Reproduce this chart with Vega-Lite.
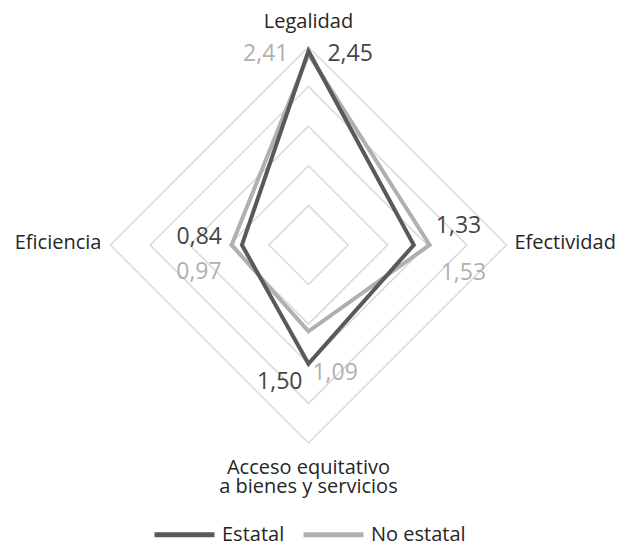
{
  "$schema": "https://vega.github.io/schema/vega-lite/v6.json",
  "width": 622,
  "height": 544,
  "padding": 0,
  "autosize": {"type": "none"},
  "config": {
    "view": {"stroke": null},
    "font": "Open Sans",
    "text": {"font": "Open Sans"}
  },
  "datasets": {
    "valores": [
      {"grupo": "No estatal", "eje": "Legalidad", "valor": 2.41},
      {"grupo": "No estatal", "eje": "Efectividad", "valor": 1.53},
      {"grupo": "No estatal", "eje": "Acceso equitativo\na bienes y servicios", "valor": 1.09},
      {"grupo": "No estatal", "eje": "Eficiencia", "valor": 0.97},
      {"grupo": "Estatal", "eje": "Legalidad", "valor": 2.45},
      {"grupo": "Estatal", "eje": "Efectividad", "valor": 1.33},
      {"grupo": "Estatal", "eje": "Acceso equitativo\na bienes y servicios", "valor": 1.5},
      {"grupo": "Estatal", "eje": "Eficiencia", "valor": 0.84}
    ],
    "malla": [
      {"nivel": 0.5, "eje": "Legalidad", "valor": 0.5},
      {"nivel": 0.5, "eje": "Efectividad", "valor": 0.5},
      {"nivel": 0.5, "eje": "Acceso equitativo\na bienes y servicios", "valor": 0.5},
      {"nivel": 0.5, "eje": "Eficiencia", "valor": 0.5},
      {"nivel": 1, "eje": "Legalidad", "valor": 1},
      {"nivel": 1, "eje": "Efectividad", "valor": 1},
      {"nivel": 1, "eje": "Acceso equitativo\na bienes y servicios", "valor": 1},
      {"nivel": 1, "eje": "Eficiencia", "valor": 1},
      {"nivel": 1.5, "eje": "Legalidad", "valor": 1.5},
      {"nivel": 1.5, "eje": "Efectividad", "valor": 1.5},
      {"nivel": 1.5, "eje": "Acceso equitativo\na bienes y servicios", "valor": 1.5},
      {"nivel": 1.5, "eje": "Eficiencia", "valor": 1.5},
      {"nivel": 2, "eje": "Legalidad", "valor": 2},
      {"nivel": 2, "eje": "Efectividad", "valor": 2},
      {"nivel": 2, "eje": "Acceso equitativo\na bienes y servicios", "valor": 2},
      {"nivel": 2, "eje": "Eficiencia", "valor": 2},
      {"nivel": 2.5, "eje": "Legalidad", "valor": 2.5},
      {"nivel": 2.5, "eje": "Efectividad", "valor": 2.5},
      {"nivel": 2.5, "eje": "Acceso equitativo\na bienes y servicios", "valor": 2.5},
      {"nivel": 2.5, "eje": "Eficiencia", "valor": 2.5}
    ]
  },
  "encoding": {
    "x": {"field": "x", "type": "quantitative", "axis": null,
          "scale": {"domain": [-3.895, 3.959], "nice": false, "zero": false}},
    "y": {"field": "y", "type": "quantitative", "axis": null,
          "scale": {"domain": [-3.776, 3.093], "nice": false, "zero": false}}
  },
  "layer": [
    {
      "data": {"name": "malla"},
      "transform": [
        {"calculate": "datum.eje === 'Efectividad' ? datum.valor : datum.eje === 'Eficiencia' ? -datum.valor : 0", "as": "x"},
        {"calculate": "datum.eje === 'Legalidad' ? datum.valor : (datum.eje === 'Efectividad' || datum.eje === 'Eficiencia') ? 0 : -datum.valor", "as": "y"},
        {"calculate": "indexof(['Legalidad', 'Efectividad', 'Acceso equitativo\\na bienes y servicios', 'Eficiencia'], datum.eje)", "as": "orden"}
      ],
      "mark": {"type": "line", "interpolate": "linear-closed", "stroke": "#d9d9d9", "strokeWidth": 1.5},
      "encoding": {
        "detail": {"field": "nivel"},
        "order": {"field": "orden", "type": "quantitative"}
      }
    },
    {
      "data": {"name": "malla"},
      "transform": [
        {"filter": "datum.nivel === 2.5 && datum.eje === 'Legalidad'"},
        {"calculate": "0", "as": "x"},
        {"calculate": "datum.valor", "as": "y"}
      ],
      "mark": {"type": "text", "fontSize": 20, "color": "#262626", "align": "center", "baseline": "middle", "dy": -25},
      "encoding": {"text": {"field": "eje"}}
    },
    {
      "data": {"name": "malla"},
      "transform": [
        {"filter": "datum.nivel === 2.5 && datum.eje === 'Efectividad'"},
        {"calculate": "datum.valor", "as": "x"},
        {"calculate": "0", "as": "y"}
      ],
      "mark": {"type": "text", "fontSize": 20, "color": "#262626", "align": "left", "baseline": "middle", "dx": 8, "dy": -2},
      "encoding": {"text": {"field": "eje"}}
    },
    {
      "data": {"name": "malla"},
      "transform": [
        {"filter": "datum.nivel === 2.5 && datum.eje === 'Eficiencia'"},
        {"calculate": "-datum.valor", "as": "x"},
        {"calculate": "0", "as": "y"}
      ],
      "mark": {"type": "text", "fontSize": 20, "color": "#262626", "align": "right", "baseline": "middle", "dx": -9, "dy": -2},
      "encoding": {"text": {"field": "eje"}}
    },
    {
      "data": {"name": "malla"},
      "transform": [
        {"filter": "datum.nivel === 2.5 && indexof(datum.eje, 'Acceso') === 0"},
        {"calculate": "0", "as": "x"},
        {"calculate": "-datum.valor", "as": "y"}
      ],
      "mark": {"type": "text", "fontSize": 20, "lineHeight": 19, "lineBreak": "\n", "color": "#262626", "align": "center", "baseline": "top", "dy": 15},
      "encoding": {"text": {"field": "eje"}}
    },
    {
      "data": {"name": "valores"},
      "transform": [
        {"filter": "datum.grupo === 'No estatal'"},
        {"calculate": "datum.eje === 'Efectividad' ? datum.valor : datum.eje === 'Eficiencia' ? -datum.valor : 0", "as": "x"},
        {"calculate": "datum.eje === 'Legalidad' ? datum.valor : (datum.eje === 'Efectividad' || datum.eje === 'Eficiencia') ? 0 : -datum.valor", "as": "y"},
        {"calculate": "indexof(['Legalidad', 'Efectividad', 'Acceso equitativo\\na bienes y servicios', 'Eficiencia'], datum.eje)", "as": "orden"}
      ],
      "mark": {"type": "line", "interpolate": "linear-closed", "strokeWidth": 4, "strokeJoin": "miter"},
      "encoding": {
        "color": {"field": "grupo", "type": "nominal",
                  "scale": {"domain": ["Estatal", "No estatal"], "range": ["#595959", "#b0b0b0"]},
                  "legend": {"orient": "none", "legendX": 152, "legendY": 502, "direction": "horizontal",
                             "title": null, "symbolType": "stroke", "symbolSize": 3600, "symbolStrokeWidth": 5,
                             "labelFontSize": 20, "labelFont": "Open Sans", "labelColor": "#262626",
                             "labelOffset": 5, "columnPadding": 8, "padding": 0}},
        "order": {"field": "orden", "type": "quantitative"}
      }
    },
    {
      "data": {"name": "valores"},
      "transform": [
        {"filter": "datum.grupo === 'Estatal'"},
        {"calculate": "datum.eje === 'Efectividad' ? datum.valor : datum.eje === 'Eficiencia' ? -datum.valor : 0", "as": "x"},
        {"calculate": "datum.eje === 'Legalidad' ? datum.valor : (datum.eje === 'Efectividad' || datum.eje === 'Eficiencia') ? 0 : -datum.valor", "as": "y"},
        {"calculate": "indexof(['Legalidad', 'Efectividad', 'Acceso equitativo\\na bienes y servicios', 'Eficiencia'], datum.eje)", "as": "orden"}
      ],
      "mark": {"type": "line", "interpolate": "linear-closed", "strokeWidth": 4, "strokeJoin": "miter"},
      "encoding": {
        "color": {"field": "grupo", "type": "nominal"},
        "order": {"field": "orden", "type": "quantitative"}
      }
    },
    {
      "mark": {"type": "rule", "stroke": "#595959", "strokeWidth": 1.5},
      "encoding": {
        "x": {"datum": 1.28},
        "y": {"datum": 0.19},
        "x2": {"datum": 1.6},
        "y2": {"datum": 0.25}
      }
    },
    {
      "mark": {"type": "rule", "stroke": "#b0b0b0", "strokeWidth": 1.5},
      "encoding": {
        "x": {"datum": 0},
        "y": {"datum": -1.09},
        "x2": {"datum": 0.335},
        "y2": {"datum": -1.41}
      }
    },
    {
      "data": {"name": "valores"},
      "transform": [
        {"calculate": "datum.eje === 'Efectividad' ? datum.valor : datum.eje === 'Eficiencia' ? -datum.valor : 0", "as": "x"},
        {"calculate": "datum.eje === 'Legalidad' ? datum.valor : (datum.eje === 'Efectividad' || datum.eje === 'Eficiencia') ? 0 : -datum.valor", "as": "y"},
        {"calculate": "replace(format(datum.valor, '.2f'), '.', ',')", "as": "etiqueta"}
      ],
      "layer": [
        {
          "transform": [{"filter": "datum.grupo === 'Estatal' && datum.eje === 'Legalidad'"}],
          "mark": {"type": "text", "fontSize": 23, "color": "#454545", "align": "left", "baseline": "middle", "dx": 19, "dy": 3},
          "encoding": {"text": {"field": "etiqueta"}}
        },
        {
          "transform": [{"filter": "datum.grupo === 'No estatal' && datum.eje === 'Legalidad'"}],
          "mark": {"type": "text", "fontSize": 23, "color": "#b0b0b0", "align": "right", "baseline": "middle", "dx": -20, "dy": 0},
          "encoding": {"text": {"field": "etiqueta"}}
        },
        {
          "transform": [{"filter": "datum.grupo === 'Estatal' && datum.eje === 'Efectividad'"}],
          "mark": {"type": "text", "fontSize": 23, "color": "#454545", "align": "left", "baseline": "middle", "dx": 22, "dy": -19},
          "encoding": {"text": {"field": "etiqueta"}}
        },
        {
          "transform": [{"filter": "datum.grupo === 'No estatal' && datum.eje === 'Efectividad'"}],
          "mark": {"type": "text", "fontSize": 23, "color": "#b0b0b0", "align": "left", "baseline": "middle", "dx": 11, "dy": 28},
          "encoding": {"text": {"field": "etiqueta"}}
        },
        {
          "transform": [{"filter": "datum.grupo === 'Estatal' && datum.eje === 'Eficiencia'"}],
          "mark": {"type": "text", "fontSize": 23, "color": "#454545", "align": "right", "baseline": "middle", "dx": -20, "dy": -8},
          "encoding": {"text": {"field": "etiqueta"}}
        },
        {
          "transform": [{"filter": "datum.grupo === 'No estatal' && datum.eje === 'Eficiencia'"}],
          "mark": {"type": "text", "fontSize": 23, "color": "#b0b0b0", "align": "right", "baseline": "middle", "dx": -10, "dy": 27},
          "encoding": {"text": {"field": "etiqueta"}}
        },
        {
          "transform": [{"filter": "datum.grupo === 'Estatal' && indexof(datum.eje, 'Acceso') === 0"}],
          "mark": {"type": "text", "fontSize": 23, "color": "#454545", "align": "right", "baseline": "middle", "dx": -6, "dy": 18},
          "encoding": {"text": {"field": "etiqueta"}}
        },
        {
          "transform": [{"filter": "datum.grupo === 'No estatal' && indexof(datum.eje, 'Acceso') === 0"}],
          "mark": {"type": "text", "fontSize": 23, "color": "#b0b0b0", "align": "left", "baseline": "middle", "dx": 4, "dy": 42},
          "encoding": {"text": {"field": "etiqueta"}}
        }
      ]
    }
  ]
}
